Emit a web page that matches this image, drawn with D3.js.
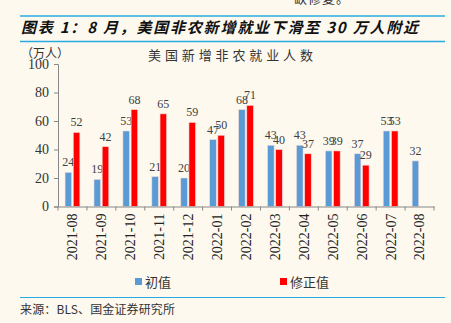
<!DOCTYPE html>
<html>
<head>
<meta charset="utf-8">
<script src="https://cdn.jsdelivr.net/npm/d3@7.9.0/dist/d3.min.js"></script>
<style>
  body { margin: 0; background: #fdf9ef; }
  svg { display: block; }
</style>
</head>
<body>
<div id="chart"></div>
<script>
const months = ['2021-08','2021-09','2021-10','2021-11','2021-12','2022-01','2022-02',
                '2022-03','2022-04','2022-05','2022-06','2022-07','2022-08'];
const initial = [24, 19, 53, 21, 20, 47, 68, 43, 43, 39, 37, 53, 32];
const revised = [52, 42, 68, 65, 59, 50, 71, 40, 37, 39, 29, 53, null];
const yTicks = [0, 20, 40, 60, 80, 100];

const width = 451, height = 323;
const SERIF = "'Times New Roman', 'Liberation Serif', 'DejaVu Serif', serif";
const CJK = "'Noto Sans CJK SC', sans-serif";

const svg = d3.select('#chart').append('svg')
  .attr('width', width).attr('height', height);

svg.append('rect').attr('width', width).attr('height', height).attr('fill', '#fdf9ef');

// cut-off line of preceding paragraph
svg.append('text').attr('x', 294).attr('y', 3)
  .style('font-family', CJK).style('font-size', '13px').style('letter-spacing', '1px')
  .attr('fill', '#333').text('缺修复。');

// header rules + title
svg.append('line').attr('x1', 20).attr('x2', 445).attr('y1', 16).attr('y2', 16)
  .attr('stroke', '#29abe2').attr('stroke-width', 1.5);
svg.append('line').attr('x1', 20).attr('x2', 445).attr('y1', 41.5).attr('y2', 41.5)
  .attr('stroke', '#29abe2').attr('stroke-width', 1.5);
svg.append('text').attr('x', 21).attr('y', 33)
  .attr('textLength', 397).attr('lengthAdjust', 'spacing')
  .style('font-family', CJK).style('font-size', '15px').style('font-weight', 'bold')
  .style('font-style', 'italic').attr('fill', '#111')
  .text('图表 1：8 月，美国非农新增就业下滑至 30 万人附近');

svg.append('text').attr('x', 21).attr('y', 58)
  .style('font-family', CJK).style('font-size', '12px').attr('fill', '#333').text('（万人）');
svg.append('text').attr('x', 148).attr('y', 60)
  .attr('textLength', 165).attr('lengthAdjust', 'spacing')
  .style('font-family', CJK).style('font-size', '13px')
  .attr('fill', '#333').text('美国新增非农就业人数');

const margin = { left: 58, right: 434, top: 64, bottom: 206.5 };

const x = d3.scaleBand().domain(months).range([margin.left, margin.right]);
const y = d3.scaleLinear().domain([0, 100]).range([margin.bottom, margin.top]);

// y axis
const yAxis = svg.append('g').attr('transform', `translate(${margin.left},0)`)
  .call(d3.axisLeft(y).tickValues(yTicks).tickSize(4).tickPadding(5));
yAxis.select('.domain').attr('stroke', '#888');
yAxis.selectAll('line').attr('stroke', '#888');
yAxis.selectAll('text').style('font-family', SERIF).style('font-size', '14px').attr('fill', '#333');

const bw = 6.6;
const series = [
  { vals: initial, color: '#5b9bd5', dx: x.bandwidth() / 2 - bw - 0.8 },
  { vals: revised, color: '#ff0000', dx: x.bandwidth() / 2 + 0.8 }
];

series.forEach(s => {
  const rows = months.map((m, i) => ({ m, v: s.vals[i] })).filter(d => d.v != null);
  svg.append('g').selectAll('rect').data(rows).join('rect')
    .attr('x', d => x(d.m) + s.dx)
    .attr('y', d => y(d.v))
    .attr('width', bw)
    .attr('height', d => y(0) - y(d.v))
    .attr('fill', s.color)
    .attr('stroke', '#f4dcdc').attr('stroke-width', 0.6);
  svg.append('g').selectAll('text').data(rows).join('text')
    .attr('x', d => x(d.m) + s.dx + bw / 2)
    .attr('y', d => y(d.v) - 6)
    .attr('text-anchor', 'middle')
    .style('font-family', SERIF).style('font-size', '12px').attr('fill', '#404040')
    .text(d => d.v);
});

// x axis
const xAxis = svg.append('g').attr('transform', `translate(0,${margin.bottom})`)
  .call(d3.axisBottom(x).tickSize(0).tickPadding(0));
xAxis.select('.domain').attr('stroke', '#888');
xAxis.selectAll('.tick line').remove();
xAxis.selectAll('.tick text')
  .attr('transform', 'rotate(-90)')
  .attr('text-anchor', 'end')
  .attr('x', -7).attr('y', 0).attr('dy', '0.35em')
  .style('font-family', SERIF).style('font-size', '14px').attr('fill', '#222');
// boundary ticks
svg.append('g').selectAll('line').data(months.concat(['end'])).join('line')
  .attr('x1', (d, i) => margin.left + i * x.step())
  .attr('x2', (d, i) => margin.left + i * x.step())
  .attr('y1', margin.bottom).attr('y2', margin.bottom + 4)
  .attr('stroke', '#888');

// legend
const legend = [
  { name: '初值', color: '#5b9bd5', x: 135 },
  { name: '修正值', color: '#ff0000', x: 280 }
];
legend.forEach(l => {
  svg.append('rect').attr('x', l.x).attr('y', 278).attr('width', 7).attr('height', 7)
    .attr('fill', l.color);
  svg.append('text').attr('x', l.x + 10).attr('y', 287)
    .style('font-family', CJK).style('font-size', '13px').attr('fill', '#333').text(l.name);
});

// footer
svg.append('line').attr('x1', 20).attr('x2', 445).attr('y1', 297.5).attr('y2', 297.5)
  .attr('stroke', '#29abe2').attr('stroke-width', 1.2);
svg.append('text').attr('x', 20).attr('y', 314)
  .attr('textLength', 155).attr('lengthAdjust', 'spacing')
  .style('font-family', CJK).style('font-size', '12px').attr('fill', '#333')
  .text('来源：BLS、国金证券研究所');
</script>
</body>
</html>
